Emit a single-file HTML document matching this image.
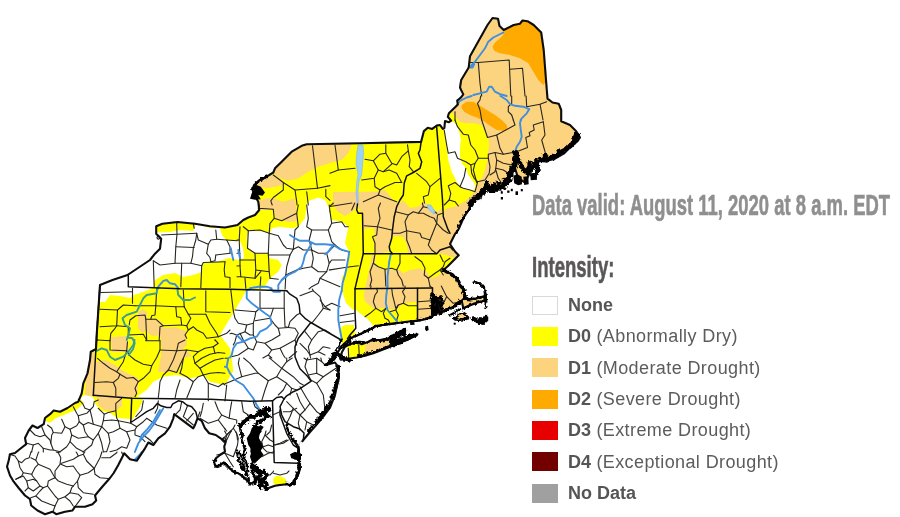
<!DOCTYPE html>
<html lang="en"><head><meta charset="utf-8"><title>U.S. Drought Monitor - Northeast</title>
<style>
html,body{margin:0;padding:0;background:#fff;}
body{width:900px;height:517px;overflow:hidden;position:relative;font-family:"Liberation Sans",sans-serif;}
#map{position:absolute;left:0;top:0;width:900px;height:517px;}
.hd{position:absolute;left:532px;white-space:nowrap;font-weight:bold;transform-origin:0 0;line-height:1;}
#dv{top:191.3px;font-size:28.6px;color:#8f8f8f;transform:scaleX(0.645);-webkit-text-stroke:0.6px #8f8f8f;}
#in{top:253.2px;font-size:28.6px;color:#5a5759;transform:scaleX(0.648);-webkit-text-stroke:0.6px #5a5759;}
.sw{position:absolute;left:532px;width:26.3px;height:19px;}
.lt{position:absolute;left:568px;font-size:18px;line-height:25px;color:#5c5c5c;white-space:nowrap;letter-spacing:0.4px;}
.lt b{color:#555;letter-spacing:0;}
</style></head><body>
<svg id="map" width="900" height="517" viewBox="0 0 900 517">
<defs><filter id="soft" x="0" y="0" width="100%" height="100%"><feGaussianBlur stdDeviation="0.5"/></filter></defs>
<g filter="url(#soft)">
<defs><filter id="rough" x="-5%" y="-5%" width="110%" height="110%"><feTurbulence type="fractalNoise" baseFrequency="0.35" numOctaves="2" seed="7" result="n"/><feDisplacementMap in="SourceGraphic" in2="n" scale="4.5" xChannelSelector="R" yChannelSelector="G"/></filter><clipPath id="land"><polygon points="492.5,18 498,18.7 499.5,26 503.7,30 513.7,25 520,23.7 522.5,20.5 527.5,21.2 533.7,25 541.2,32.5 543.7,50 546.2,82.5 547.5,98.7 552.5,102.5 558.7,103.7 561.2,110 561.2,121.2 570,125 576.2,131.2 580,137.5 577.5,141.2 570,147.5 563.7,153.7 555,158.7 545,161.2 537.5,161.2 530,172.5 525,182.5 518,178 515,168 512.5,172 502.5,185 495,187.5 485,186.2 480,195 472.5,201.2 468.7,210 463.7,217.5 458.7,229 455,234 450,244 455,251.5 458.7,255.2 452.5,261.5 447.5,266.5 443.3,270 450,273.3 456.7,278.3 460,285 463.3,290 465,295 465,298.3 470,299.3 476.7,298.3 483.3,296.7 485.3,295 486.3,301.7 484.2,300.8 476.7,302.7 470,305.3 463.3,308.3 461.7,300.8 458.3,303.3 453.3,307 448.3,308.7 443.3,311.7 438.3,312.5 434.2,313.7 431.7,316.7 423.3,319.7 418.3,320.8 406.7,321.7 396.7,323.3 383.3,325 376.7,325.8 370,329.2 363.3,332.5 356.7,335.8 350,338.3 346,342 341.7,346 338,352 333,358 326,365 335,362.5 338.7,367.5 338.7,377.5 335,395 330,407.5 322.5,417.5 316.2,425 310,432 303.3,440 298.3,446.7 299.2,455 299.2,463.3 299.2,470 296.7,476.7 293.3,483.3 290,485 286.7,484.2 280,485 275,485.8 270,487.5 265.8,489.2 262,484 258,478 254,482 250,484.2 248.3,481.7 243.3,476.7 238.3,473.3 233.3,471.7 228.3,466.7 224.2,462.5 220,465 215.8,466.7 214.2,462.5 215.8,458.3 220,455 225,451.7 224.2,446.7 225.8,441.7 221.7,439.2 215.8,435 209.2,433.3 205,428.3 201.7,420.8 197.5,418.3 195,425 193.3,428.3 174.2,414.2 173.3,418.3 170,426.7 165,433.3 158.3,438.3 153.3,445 148.3,442.5 145,448.3 141.7,453.3 136.7,460.8 130,459.2 124.2,453.3 121.7,458.3 118.3,465 113.7,473 110,478 101.2,488 95,495.5 96.2,500.5 92.5,504.2 85,506.7 75,506.7 72.5,510.5 65,511.7 56.2,514.2 52.5,511.7 45,514.2 37.5,510.5 31.2,505.5 30,499.2 25,495.5 18.7,488 13.7,481.7 10,475.5 7,466.7 8.7,460.5 10,454.2 15,453 21.2,448 26.2,444.2 25,438 28.7,430.5 32.5,425.5 37.5,428 43.7,424.2 45,418 50,414.2 53.7,410.5 60,411.7 67.5,408 75,403 78.3,401.7 81.7,393.3 83.3,383.3 87.5,373.3 90,360 90.8,351.7 96,349 96.7,335 100,285 112.5,280 127.5,275 150,260 155,253.7 160,248.7 161.2,238.7 156.2,233.7 156.2,226.2 162.5,223.7 177.5,222 195,223.7 210,226.2 225,227.5 237.5,225 243.3,220 248.3,217.5 255,215 259.2,210 258.3,201.7 253.3,193.3 252.5,188.3 255,184.2 260,180 266.7,176.7 273.3,172.5 275,168.3 281.7,161.7 291.7,151.7 301.7,145.8 306.7,144.2 360,143.3 421.1,141.9 423.9,131.1 427.8,127.8 432.2,128.9 436.7,125.6 440,125 442.8,128.9 444.4,127.8 445,121.1 448.9,122.2 451.1,120.6 447.8,116.7 448.9,113.3 452.2,110 455.6,106.7 457.8,104.4 457.2,100.6 460.6,97.8 463.3,94.4 461.1,90 460,87.5 461.2,80 468.7,67.5 470,56.2 487.5,25" /><polygon points="340,358.3 342,352 345,346.7 348.3,345 353.3,343.3 358.3,342.5 361.7,344.2 368.3,341.7 371.7,340 380,340 388.3,338.3 393.3,335.8 400,331.7 405,329.2 405,331 398.3,336 393.3,340 391.7,343 396.7,340.8 406.7,337.5 413.3,335 417.5,334.2 416.7,335.3 406.7,340 398.3,343.3 390,346.7 381.7,350 373.3,353.3 365,355.8 356.7,357.5 348.3,358.7 340.8,359.7" /><polygon points="454.2,318.7 458.3,315.3 463.3,312.7 466.7,315 468.3,318.3 463.3,319.3 458.3,320" /><polygon points="473.3,318.3 478.3,320.3 483.3,319.7 486,316.3 486.7,320 483.3,323 477,322.3" /></clipPath></defs>
<g clip-path="url(#land)">
<rect x="0" y="0" width="900" height="517" fill="#fff"/>
<polygon points="0,0 900,0 900,517 0,517" fill="#ffff00"/>
<polygon points="140,262 150,250 152,240 152,232.5 170,232 180,230 193,231 196,224 210,228 220,228 222,235 226,240 232,241 240,241 243,248 244,258 238,260 230,258 225,259 217,262 203,263 202,272 193,275 183,277 175,273 163,275 155,280 153,288 143,292 134,295 130,298 120,296 110,295 105,302 98,302 98,270" fill="#ffffff"/>
<polygon points="318.3,197.5 325,200 328.3,206.7 330,211.7 331.7,220 341.7,221.7 348.3,226.7 346.7,235 345,243.3 349.2,251.7 348.3,263.3 345,271.7 341.7,278.3 342.5,292 346,303 352,309 355.5,310.5 356,312 358,330 420,331 500,335 500,517 0,517 0,398 80,398 85,395 93,397 95,403 100,410.5 110,413 117.5,418 130,419 131.7,421 135,415 140,406.7 143.3,398.3 136.7,396.7 146.7,390 153.3,381.7 163.3,376.7 176.7,375 190,378.3 198.3,376.7 203.3,375 210,381.7 225,385 233.3,371 231.7,358.3 230,348.3 220,335 235,310 246.7,290 263.3,288.3 266.7,283.3 270,278.3 278.3,271.7 281.7,265 278.3,260 270,258.3 268.3,253.3 253.3,253.3 247.5,248.3 246.7,238.3 248.3,230.8 266.7,231.7 270,233.3 271.7,228.3 280,226.7 291.7,228.3 298.3,226.7 305,218.3 306.7,205 308.3,201" fill="#ffffff"/>
<polygon points="442.5,125.8 445.8,123.3 453.3,121.7 456.7,125 459.2,131.7 460.8,140 460,148.3 460,156.7 461.7,163.3 465.8,168 468.3,175 473.3,181.7 475.8,186.7 473.3,190.8 466.7,190 460,186.7 456.7,181.7 451.7,171.7 448.3,160 447.5,153.3 445.8,140 444.2,130" fill="#ffffff"/>
<polygon points="341.7,326.7 345,325 354.2,325 354.2,328.3 356.7,330 363.3,332 356.7,335.8 350,339.2 348.3,343.3 342.5,344.2 340.8,339.2 340,333.3" fill="#ffff00"/>
<polygon points="44,420 50,412 60,409 70,404 80,399 84,403 76,410 66,414 56,418 50,423" fill="#ffff00"/>
<polygon points="273.3,478.3 276.7,475.8 281.7,476.7 285.8,479.2 286.7,482.5 283.3,485 276.7,485.3 273.3,483.3" fill="#ffff00"/>
<polygon points="347.5,340 365,337 365,360 347.5,362" fill="#ffff00"/>
<polygon points="333,192 353,191.7 375,191.7 385,190 393,200 400,203 403,200 410,208 418,206.7 423,201.7 430,205 436.7,211.7 443,208 440,216.7 446.7,208.3 455,206.7 461.7,203.3 466.7,200 471.7,195 475,190 478.3,183.3 481.7,178.3 485,170 487.5,160 488.3,150 489.2,146.7 488.3,138.3 485,131.7 481.7,125 475,123.3 466.7,123.3 460,121.7 455,116.7 451.7,111.7 447,118 440,120 440,0 600,0 600,345 365,360 365,336 355,331 355,289 363,254 363,215 358,207 352,212 345,216 338,212 333,205" fill="#fcd37f"/>
<polygon points="351.7,145 348.3,153.3 341.7,160 331.7,162.5 318.3,166.7 308.3,171.7 298.3,178.3 288.3,180.8 280,178.3 273.3,174.2 265,165 300,138 352,138" fill="#fcd37f"/>
<polygon points="250,180 273.3,175 281.7,180 283.3,185 275,186.7 266.7,188.3 258.3,186.7 250,188" fill="#fcd37f"/>
<polygon points="255,201.7 266.7,198.3 273.3,198.3 283.3,201.7 295,198.3 296.7,213.3 298,221 288,222 275,218.3 273.3,210 260,210 255,212" fill="#fcd37f"/>
<polygon points="138,312 143,309 147,312 147,330 142,333 138,328" fill="#fcd37f"/>
<polygon points="147,320 155,318 163,323 163,335 152,336 147,332" fill="#fcd37f"/>
<polygon points="162,328 175,327 186,331 187,345 180,352 168,352 162,345" fill="#fcd37f"/>
<polygon points="111,337 127,336 128,352 112,352" fill="#fcd37f"/>
<polygon points="170,350 183,348 183,362 178,371 170,371" fill="#fcd37f"/>
<polygon points="160,352 186,350 192,356 178,360 165,358" fill="#fcd37f"/>
<polygon points="90,351 93.5,351 95,362 105,360 115,365 125,372 138,378 138,390 135,397 122,398 122,406 115,412 104,410 98,405 97,397 85,395 86,380" fill="#fcd37f"/>
<polygon points="160,335 172,335 176,345 170,372 158,372 162,350" fill="#fcd37f"/>
<polygon points="375,254.2 389,251 390,240 395,236 403,237 407,245 408,254 436.7,253.3 446.7,255 455,258.3 450,265 443.3,271.7 436.7,276.7 430,278.3 426.7,271.7 420,268.3 410,270 403.3,273.3 400,270 388.3,270 380,268.3 375,265" fill="#ffff00"/>
<polygon points="355,288.7 363.3,293.3 365,301.7 373.3,308.3 385,308.3 396.7,310 403.3,303.3 416.7,301.7 417.5,322 396.7,325 375,328 355,332" fill="#ffff00"/>
<polygon points="354.2,308.3 360,313.3 366.7,318.3 371.7,323.3 373.3,326.7 370,329.5 363.3,333 356.7,336 354.2,330" fill="#ffffff"/>
<polygon points="362.8,253.3 372.2,253.3 370.8,261.7 368.6,272.8 365.2,287.2 363.6,295.0 363.0,302.8 355.3,302.8 355.6,287.8 358.3,272.8" fill="#ffff00"/>
<polygon points="363.7,228.7 373.3,227.7 375.0,233.3 374.3,243.3 375.0,253.7 363.3,253.7" fill="#ffff00"/>
<polygon points="503.3,31.7 503.3,30.0 510.0,26.7 520.8,23.3 521.7,20.0 525.8,19.5 532.5,22.5 539.2,30.0 542.5,35.0 543.3,51.7 545.0,68.3 545.8,81.7 543.3,85.0 538.3,80.0 533.3,71.7 528.3,63.3 520.0,58.3 510.0,55.0 500.0,53.3 494.2,50.8 492.5,46.7 495.0,42.5 500.0,38.3 503.3,35.0" fill="#ffaa00"/>
<polygon points="461.7,105.0 466.7,101.7 473.3,101.7 480.0,105.8 486.7,110.0 495.0,115.0 501.7,120.0 506.7,125.0 507.5,129.2 503.3,130.8 496.7,130.0 490.0,125.8 483.3,120.8 476.7,117.5 470.0,115.0 464.2,111.7 461.7,108.3" fill="#ffaa00"/>
</g>
<g fill="none" stroke="#26261f" stroke-width="1.1" stroke-linejoin="round" stroke-linecap="round">
<polyline points="335.0,145.0 338.3,170.0 330.0,173.3" />
<polyline points="338.3,170.0 355.0,168.3" />
<polyline points="365.0,159.2 373.3,160.8 380.0,154.2 385.8,153.3 385.8,144.7" />
<polyline points="385.8,153.3 391.7,163.3 396.7,165.0 401.7,156.7 408.3,150.8 407.5,144.7" />
<polyline points="408.3,150.8 410.0,160.0 409.2,166.7 413.3,171.7" />
<polyline points="373.3,160.8 378.3,170.0 383.3,171.7 391.7,164.2" />
<polyline points="378.3,170.0 374.2,178.3 361.7,180.0" />
<polyline points="383.3,171.7 389.2,170.0 396.7,173.3 401.7,182.5" />
<polyline points="374.2,178.3 375.0,186.7 380.0,190.0 385.0,186.7 395.0,182.5 401.7,182.5" />
<polyline points="380.0,190.0 378.3,195.0 363.3,201.7" />
<polyline points="378.3,195.0 396.7,201.7" />
<polyline points="416.7,173.3 426.7,181.7 430.0,186.7 440.0,178.3" />
<polyline points="430.0,186.7 428.3,195.0 423.3,196.7 424.5,203.0" />
<polyline points="469.2,62.5 478.3,62.5 509.2,60.0 510.8,96.0" />
<polyline points="478.3,62.5 480.0,83.3 481.7,96.0" />
<polyline points="510.0,69.2 522.5,68.3 525.0,96.0" />
<polyline points="480.7,96.0 480.0,100.0 477.5,103.3 480.0,110.0 481.7,120.0" />
<polyline points="511.7,96.0 511.7,103.3 508.3,106.7 508.3,111.7 511.7,115.0 513.3,120.0" />
<polyline points="526.1,96.0 526.7,106.7 540.0,104.2 546.7,101.7" />
<polyline points="540.0,104.2 543.0,120.0" />
<polyline points="455.0,111.7 455.0,120.0" />
<polyline points="455.0,120.0 457.5,126.7 463.3,134.2 468.3,135.0 470.8,145.0 475.0,150.0 478.3,158.3 488.3,158.3" />
<polyline points="478.3,158.3 475.0,163.3 470.8,165.0 465.8,161.7 457.5,158.3 455.0,151.7 448.3,153.3 446.7,145.0 444.2,130.0" />
<polyline points="470.8,165.0 471.7,173.3 474.2,178.3 477.5,181.7 485.0,180.0 489.2,173.3 490.0,166.7 488.3,158.3" />
<polyline points="475.0,163.3 473.3,170.0 476.7,182.5" />
<polyline points="465.8,168.3 464.2,176.7 460.0,186.7 463.3,188.3 470.0,190.0 475.0,191.7 477.5,182.5" />
<polyline points="460.0,186.7 455.0,182.5 448.3,185.8 450.8,193.3 449.2,200.0 455.0,201.7 458.3,206.0" />
<polyline points="449.2,200.0 444.2,205.0" />
<polyline points="481.7,120.0 487.5,137.5 496.7,135.0 515.0,125.0 513.3,120.0" />
<polyline points="496.7,135.0 500.0,148.3 503.3,154.2 516.7,151.7" />
<polyline points="503.3,154.2 495.0,152.5 488.3,154.2 488.3,158.3" />
<polyline points="495.0,152.5 496.7,160.0 495.8,168.3 495.0,171.7 490.0,175.0" />
<polyline points="496.7,160.0 503.3,163.3 511.7,165.0" />
<polyline points="495.8,168.3 503.3,170.0 508.3,173.3 510.0,177.5" />
<polyline points="495.8,170.0 498.3,178.3 501.7,183.3" />
<polyline points="543.3,121.7 533.3,125.0 534.2,130.0 529.2,132.5 530.0,135.8 525.8,137.5 527.5,147.5 516.7,151.7" />
<polyline points="543.3,121.7 545.0,135.0 541.7,140.0 545.0,151.7 546.7,158.3" />
<polyline points="364.2,225.8 377.5,226.7 391.7,230.0" />
<polyline points="377.5,226.7 380.0,218.3 378.3,208.3 380.5,203.0" />
<polyline points="377.5,226.7 376.7,235.0 372.5,236.7 375.0,243.3 375.0,253.3" />
<polyline points="395.8,211.7 408.3,215.0 413.3,211.7 418.3,213.3 423.3,206.7 422.4,203.0" />
<polyline points="408.3,215.0 405.0,221.7 406.7,230.8 411.7,231.7 420.0,233.3 421.7,237.5 430.0,240.0 433.3,231.7 436.7,223.3 434.2,218.3 430.0,216.7 423.3,213.3 418.3,213.3" />
<polyline points="406.7,230.8 400.0,233.3 392.5,233.3" />
<polyline points="406.7,230.8 406.7,240.0 410.0,248.3 411.7,253.7" />
<polyline points="430.0,240.0 428.3,245.0 431.7,250.0 436.7,253.7" />
<polyline points="436.7,223.3 443.3,230.0 448.3,233.3" />
<polyline points="436.7,223.3 437.5,215.0 442.5,213.3" />
<polyline points="423.3,206.7 430.0,208.3 436.7,213.3" />
<polyline points="375.0,254.2 373.3,263.3 378.3,266.7 385.0,269.2 391.7,268.3 396.7,270.0 400.0,263.3 400.0,254.2" />
<polyline points="373.3,263.3 370.0,271.7 371.7,280.0 370.0,286.0" />
<polyline points="396.7,270.0 398.3,275.0 401.7,280.0 403.3,286.0" />
<polyline points="385.0,269.2 385.8,286.0" />
<polyline points="415.0,256.7 421.7,261.7 425.0,268.3 424.2,275.0 428.3,278.3 435.0,273.3 440.0,270.0 443.3,266.7 445.0,261.7 450.0,258.3" />
<polyline points="440.0,255.0 443.3,261.7" />
<polyline points="428.3,278.3 430.0,286.0" />
<polyline points="440.0,270.0 443.3,275.0" />
<polyline points="371.1,286.0 370.8,287.5" />
<polyline points="405.0,286.0 405.0,287.5" />
<polyline points="429.7,286.0 431.7,287.5" />
<polyline points="441.3,286.0 443.3,290.0 446.7,296.7 443.3,303.3" />
<polyline points="446.7,296.7 453.3,303.3 460.0,301.7" />
<polyline points="376.7,288.3 377.5,291.7 375.0,295.0 373.3,301.7 375.8,308.3 370.0,313.3 365.0,316.7" />
<polyline points="375.8,308.3 381.7,311.7 385.8,308.3" />
<polyline points="391.7,288.3 392.5,295.0 394.2,301.7 395.8,308.3 398.3,305.0 403.3,303.3 405.0,296.7 402.5,291.7 405.0,288.3" />
<polyline points="403.3,303.3 408.3,305.8 417.5,305.8" />
<polyline points="398.3,305.0 395.8,310.0 398.3,315.0 396.7,320.0 397.5,323.3" />
<polyline points="385.8,308.3 383.3,313.3 385.0,318.3 388.3,320.0 390.0,323.3" />
<polyline points="395.8,310.0 390.0,311.7" />
<polyline points="418.0,301.7 431.7,300.8" />
<polyline points="418.0,309.2 431.7,308.3" />
<polyline points="312.5,145.8 315.0,166.7 317.5,188.3" />
<polyline points="330.0,185.6 317.5,188.3" />
<polyline points="273.3,175.0 283.3,182.5 295.0,190.0 317.5,188.3" />
<polyline points="295.0,190.0 296.7,201.7 297.1,205.0" />
<polyline points="283.3,182.5 283.3,190.0 273.3,197.5 270.8,200.8 272.2,205.0" />
<polyline points="306.7,191.7 308.3,205.0 308.3,205.0" />
<polyline points="325.8,189.2 325.8,196.7 330.0,200.4" />
<polyline points="333.0,203.0 333.3,203.3 330.0,206.0" />
<polyline points="330.0,206.5 351.9,203.0" />
<polyline points="354.8,203.0 351.7,210.0 351.7,210.0" />
<polyline points="259.2,205.0 258.3,208.3 273.3,209.2 274.2,218.3 281.7,220.8 296.7,213.3 298.3,205.0" />
<polyline points="296.7,213.3 298.3,226.7 295.0,230.0 293.3,249.2" />
<polyline points="274.2,218.3 270.0,223.3 269.2,233.3" />
<polyline points="243.3,226.7 248.3,230.8 260.0,230.0 269.2,233.3" />
<polyline points="248.3,230.8 247.5,248.3 255.0,253.3 268.3,253.3 269.2,233.3" />
<polyline points="269.2,233.3 278.3,235.8 283.3,245.0 286.7,248.3 293.3,249.2" />
<polyline points="306.7,205.0 308.3,218.3 306.7,226.7 311.7,230.0 328.3,230.0 330.0,226.7" />
<polyline points="330.0,211.7 330.0,211.7 329.2,205.0" />
<polyline points="330.0,226.7 331.7,223.3 330.0,211.7 330.0,211.7" />
<polyline points="311.7,230.0 309.2,240.0 311.7,250.0" />
<polyline points="328.3,230.0 330.0,235.8" />
<polyline points="330.0,235.8 331.7,241.7 335.0,245.0" />
<polyline points="331.7,223.3 341.7,221.7 345.0,226.7 348.3,226.7" />
<polyline points="293.3,249.2 298.3,246.7 303.3,250.0 311.7,250.0 318.3,253.3 326.7,253.3 330.0,250.0" />
<polyline points="330.0,250.0 335.0,245.0 341.7,250.0 348.3,251.7" />
<polyline points="268.3,253.3 269.2,271.7 270.0,278.3" />
<polyline points="255.0,253.3 255.8,270.0 255.0,278.3" />
<polyline points="255.8,270.0 269.2,271.7" />
<polyline points="268.3,255.0 290.0,255.0 293.3,249.2" />
<polyline points="290.0,255.0 286.7,266.7 285.8,275.0 285.1,289.0" />
<polyline points="311.7,250.0 313.3,258.3 311.7,266.7 318.3,271.7 326.7,271.7 329.2,263.3 326.7,253.3" />
<polyline points="311.7,266.7 303.3,268.3 296.7,270.0 285.8,275.0" />
<polyline points="329.2,263.3 330.0,262.2" />
<polyline points="330.0,262.2 331.7,260.0 345.0,260.0" />
<polyline points="329.2,270.0 330.0,269.9" />
<polyline points="330.0,269.9 345.0,267.5 358.3,265.8" />
<polyline points="326.7,271.7 320.0,278.3 318.3,283.3 311.7,286.7 309.0,289.0" />
<polyline points="320.0,278.3 330.0,282.5" />
<polyline points="330.0,282.5 340.0,286.7" />
<polyline points="270.0,278.3 278.3,279.2" />
<polyline points="237.0,240.1 239.2,240.0 240.0,226.7" />
<polyline points="239.2,240.0 240.0,260.0 255.0,260.0" />
<polyline points="237.0,253.3 240.0,253.3" />
<polyline points="237.0,266.0 240.0,265.8 240.0,260.0" />
<polyline points="240.0,265.8 240.8,276.7 255.0,278.3 260.8,271.7" />
<polyline points="237.0,276.7 240.8,276.7" />
<polyline points="245.0,278.3 245.8,288.3" />
<polyline points="260.8,276.7 260.0,288.3" />
<polyline points="161.7,235.0 176.7,234.2 196.7,233.3" />
<polyline points="176.7,223.3 177.0,234.2 175.8,246.7 175.0,263.3" />
<polyline points="193.3,223.3 194.2,228.3" />
<polyline points="196.7,233.3 195.8,240.0 193.3,248.3 192.5,256.7 190.8,263.3" />
<polyline points="175.8,246.7 194.2,247.5" />
<polyline points="196.7,233.3 198.3,240.0 208.3,244.2 210.8,240.0 216.7,239.2 215.8,230.0" />
<polyline points="208.3,244.2 206.7,253.3 210.0,257.5 210.8,261.7" />
<polyline points="216.7,239.2 226.7,240.0 237.0,240.7" />
<polyline points="226.7,240.0 230.0,246.7 230.0,253.3" />
<polyline points="215.8,255.0 230.0,253.3" />
<polyline points="215.8,255.0 215.0,260.8 210.8,261.7" />
<polyline points="153.3,260.8 160.0,265.0 175.0,263.3 190.8,263.3 201.7,265.8" />
<polyline points="153.3,260.8 154.2,286.7" />
<polyline points="181.7,263.3 180.8,286.7" />
<polyline points="201.7,265.8 203.3,262.5 225.0,261.7" />
<polyline points="201.7,265.8 200.8,287.5" />
<polyline points="225.0,261.7 224.2,270.0 225.0,276.7 230.0,277.5 230.0,287.5" />
<polyline points="132.5,289.0 132.5,288.3" />
<polyline points="156.7,288.3 156.7,289.0" />
<polyline points="157.5,236.3 159.7,236.3 160.3,238.3 158.3,239.3 157.0,238.0 157.5,236.3" />
<polyline points="100.8,292.5 132.5,291.7" />
<polyline points="132.5,289.0 132.5,303.3" />
<polyline points="100.0,309.2 117.5,310.0 123.3,305.0 135.0,305.8" />
<polyline points="156.7,289.2 155.8,305.8" />
<polyline points="183.3,290.0 184.2,306.7" />
<polyline points="205.8,290.8 205.8,311.7 230.0,312.5" />
<polyline points="135.0,305.8 155.8,305.8 175.8,306.7 184.2,306.7" />
<polyline points="184.2,306.7 188.3,314.2 205.8,314.2" />
<polyline points="155.8,305.8 155.0,315.0 151.7,315.8 150.8,319.2 145.8,319.2 145.0,315.0 135.8,315.8 130.0,320.0 129.2,325.0" />
<polyline points="175.8,306.7 176.7,316.7 180.8,317.5 181.7,325.0 186.7,325.8 190.8,318.3 188.3,314.2" />
<polyline points="117.5,310.0 116.7,325.8 100.0,326.7" />
<polyline points="116.7,325.8 128.3,326.7" />
<polyline points="145.8,319.2 146.7,340.0 146.7,340.0" />
<polyline points="159.2,340.0 160.0,326.7 163.3,325.8 155.8,319.2 150.8,319.2" />
<polyline points="163.3,325.8 181.7,325.0" />
<polyline points="186.7,325.8 188.3,330.0 185.0,335.0 186.7,338.3" />
<polyline points="188.3,330.0 193.3,326.7 196.7,330.0 203.3,333.3 206.7,338.3 218.3,336.7" />
<polyline points="205.8,314.2 210.0,323.3 216.7,333.3 218.3,336.7" />
<polyline points="218.3,336.7 226.7,333.3 230.0,330.0" />
<polyline points="97.5,340.0 97.5,340.0" />
<polyline points="110.1,340.0 110.8,333.3 115.0,328.3 116.7,325.8" />
<polyline points="128.3,326.7 128.3,335.0 143.3,334.2 146.7,340.0" />
<polyline points="97.5,340.0 110.0,340.8 110.0,340.0" />
<polyline points="110.0,340.8 110.0,350.0 126.7,350.8 127.5,341.7" />
<polyline points="97.5,358.3 103.3,363.3 110.0,368.3 116.7,371.7 120.0,374.2 118.3,378.3 113.3,382.5 106.7,381.7 95.0,382.5" />
<polyline points="126.7,350.8 130.0,355.8 135.0,360.0 143.3,364.2 151.7,365.8 156.7,357.5 160.0,350.0 160.0,340.8" />
<polyline points="145.8,340.0 145.8,340.8 160.0,340.8" />
<polyline points="116.7,371.7 120.0,366.7 123.3,361.7 126.7,350.8" />
<polyline points="120.0,374.2 126.7,378.3 133.3,377.5 138.3,381.7 135.0,388.3 136.7,393.3 135.0,396.7" />
<polyline points="113.3,382.5 115.8,388.3 115.8,395.8" />
<polyline points="151.7,365.8 150.0,371.7 143.3,378.3 138.3,381.7" />
<polyline points="160.0,350.0 176.7,350.8 186.7,350.0 198.3,351.7" />
<polyline points="176.7,350.8 173.3,360.0 168.3,370.0 176.7,372.5 180.0,365.0 183.3,358.3 186.7,350.0" />
<polyline points="183.3,358.3 181.7,368.3 180.0,373.3" />
<polyline points="168.3,370.0 163.3,375.0 160.0,381.7 159.2,390.0 158.3,397.5" />
<polyline points="180.0,373.3 186.7,376.7 193.3,381.7 198.3,376.7 203.3,375.0" />
<polyline points="193.3,381.7 190.0,390.0 186.8,398.0" />
<polyline points="180.0,380.0 176.7,390.0 175.1,398.0" />
<polyline points="203.3,375.0 208.3,383.3 208.3,398.0" />
<polyline points="198.3,351.7 193.3,356.7 195.0,363.3 200.0,368.3 203.3,375.0" />
<polyline points="198.3,351.7 205.0,348.3 213.3,346.7" />
<polyline points="195.0,363.3 201.7,358.3 210.0,354.2 218.3,352.5 225.0,353.3" />
<polyline points="200.0,368.3 206.7,364.2 215.0,360.0 223.3,358.3" />
<polyline points="203.3,375.0 210.0,373.3 218.3,372.5 225.0,373.3" />
<polyline points="213.3,346.7 215.0,353.3" />
<polyline points="185.0,340.0 185.0,340.0 178.3,343.3 176.7,350.8" />
<polyline points="215.0,340.0 215.0,340.0 215.0,340.0" />
<polyline points="208.3,383.3 218.3,386.7 223.3,383.3 225.0,385.0" />
<polyline points="215.0,340.0 218.3,343.3 213.3,346.7" />
<polyline points="230.8,290.0 233.3,310.8 235.0,318.3 238.3,323.3 246.7,325.0 253.3,323.3 255.0,316.7 255.8,311.7 235.0,310.0" />
<polyline points="260.0,291.7 260.0,308.3 255.8,311.7" />
<polyline points="260.0,308.3 284.2,308.3 284.2,291.7" />
<polyline points="284.2,308.3 285.0,326.7 288.3,327.5" />
<polyline points="273.3,308.3 270.0,318.3 255.0,320.8" />
<polyline points="270.0,318.3 275.0,325.0 278.3,328.3 288.3,327.5" />
<polyline points="288.3,327.5 295.0,328.3 298.3,333.3 295.0,340.0 296.7,345.0" />
<polyline points="288.3,327.5 290.0,321.7 296.7,315.0 300.0,313.3" />
<polyline points="278.3,328.3 280.0,335.0 271.7,340.0 265.0,343.3 256.7,341.7 253.3,335.0 253.3,323.3" />
<polyline points="246.7,325.0 245.0,331.7 236.7,335.0 231.7,333.3 230.0,333.8" />
<polyline points="236.7,335.0 235.0,341.7 233.3,345.0" />
<polyline points="245.0,331.7 250.0,335.0 253.3,335.0" />
<polyline points="240.0,333.3 243.3,340.0 248.3,348.3 253.3,350.0 256.7,341.7" />
<polyline points="248.3,348.3 238.3,355.0 231.7,356.7" />
<polyline points="265.0,343.3 271.7,350.0 280.0,348.3 295.0,340.0" />
<polyline points="271.7,350.0 268.3,355.0 262.9,358.0" />
<polyline points="280.0,348.3 283.3,355.0 285.3,358.0" />
<polyline points="289.1,358.0 296.7,351.7" />
<polyline points="268.3,355.0 271.8,358.0" />
<polyline points="300.0,295.8 313.3,290.8 320.0,296.7 323.3,308.3 330.0,310.0" />
<polyline points="313.3,290.8 312.3,289.0" />
<polyline points="311.7,323.3 318.3,315.0 323.3,308.3" />
<polyline points="305.0,331.7 311.7,340.0 318.3,331.7 325.0,330.0 330.0,333.3" />
<polyline points="311.7,340.0 308.3,346.7 310.0,355.0 318.3,351.7 325.0,355.0" />
<polyline points="300.0,343.3 306.7,350.0 310.0,355.0" />
<polyline points="310.0,355.0 310.5,358.0" />
<polyline points="318.3,351.7 323.3,346.7 330.0,348.3" />
<polyline points="243.6,358.0 250.0,363.3 258.3,373.3 268.3,380.8 276.7,376.7 281.7,368.3 270.0,358.3 269.3,358.0" />
<polyline points="239.4,358.0 238.3,363.3 241.7,376.7 255.0,373.3 258.3,373.3" />
<polyline points="241.7,376.7 230.0,381.7 225.0,383.7" />
<polyline points="268.3,380.8 265.0,390.0 261.7,400.8" />
<polyline points="276.7,376.7 286.7,383.3 291.7,388.3 296.7,390.0" />
<polyline points="281.7,368.3 293.3,376.7 300.0,383.3 303.3,385.0" />
<polyline points="281.7,368.3 286.7,361.7 292.2,358.0" />
<polyline points="270.0,358.3 270.3,358.0" />
<polyline points="286.7,358.0 286.7,361.7" />
<polyline points="226.7,385.0 225.0,400.8" />
<polyline points="225.0,400.8 225.0,400.8" />
<polyline points="208.3,400.0 208.3,400.8" />
<polyline points="286.7,383.3 283.3,390.0 278.3,395.0" />
<polyline points="291.7,388.3 290.0,395.0" />
<polyline points="310.8,380.0 316.7,383.3 323.3,395.0 325.0,410.0" />
<polyline points="316.7,383.3 323.3,376.7 333.3,370.0 338.3,366.7" />
<polyline points="300.0,386.7 306.7,398.3 310.0,403.3 305.0,410.0 300.0,415.0" />
<polyline points="296.7,393.3 300.0,401.7 305.0,410.0" />
<polyline points="310.0,403.3 316.7,411.7 321.7,415.0" />
<polyline points="286.7,401.7 293.3,408.3 300.0,415.0 306.7,421.7 313.3,425.0" />
<polyline points="283.3,411.7 290.0,411.7 296.7,408.3" />
<polyline points="293.3,408.3 290.0,416.7 286.7,423.3" />
<polyline points="300.0,415.0 298.3,423.3 300.0,430.0" />
<polyline points="306.7,421.7 305.0,430.0" />
<polyline points="304.0,358.0 306.7,360.0 316.7,358.3 321.7,361.7 325.0,365.0" />
<polyline points="306.7,360.0 305.0,366.7 308.3,375.0 310.8,380.0" />
<polyline points="306.7,360.0 307.7,358.0" />
<polyline points="320.8,358.0 321.7,361.7" />
<polyline points="329.0,358.0 330.0,360.0 328.3,363.3" />
<polyline points="308.3,375.0 316.7,373.3 323.3,376.7" />
<polyline points="316.7,358.3 316.7,366.7 316.7,373.3" />
<polyline points="215.0,401.7 218.3,410.0 221.7,415.0 218.3,420.0 208.3,423.3 200.0,418.3" />
<polyline points="231.7,401.7 230.0,411.7 229.2,418.3 225.0,416.5" />
<polyline points="225.0,416.5 221.7,415.0" />
<polyline points="241.7,401.7 243.3,411.7 248.3,415.0 253.3,416.7" />
<polyline points="229.2,418.3 236.7,420.0 236.7,423.3" />
<polyline points="225.0,428.8 226.7,431.0" />
<polyline points="218.3,420.0 223.3,426.7 225.0,428.8" />
<polyline points="253.3,401.7 255.0,406.7 259.2,410.0" />
<polyline points="203.3,403.3 201.7,411.7 200.0,416.7" />
<polyline points="272.5,415.0 280.0,411.7" />
<polyline points="225.0,358.3 228.3,358.3" />
<polyline points="225.0,366.7 226.7,366.7" />
<polyline points="224.7,431.0 226.7,435.0" />
<polyline points="226.7,435.0 225.0,441.7" />
<polyline points="266.0,431.0 265.0,435.0 270.0,440.0 273.3,441.7" />
<polyline points="274.2,445.0 280.0,443.3 286.7,440.0" />
<polyline points="265.0,435.0 261.7,441.7 263.3,448.3 266.7,451.7 273.3,453.3" />
<polyline points="230.7,431.0 228.3,433.3 226.7,435.0" />
<polyline points="273.5,471.0 273.3,471.7 270.0,475.0 266.7,475.0" />
<polyline points="289.0,471.0 286.7,473.3 280.0,475.0 273.3,473.3" />
<polyline points="275.0,445.0 283.3,443.3 288.3,440.0" />
<polyline points="221.7,439.2 225.0,436.7 230.0,431.7 233.3,428.3 235.0,425.0" />
<polyline points="233.3,428.3 236.7,433.3 237.5,440.0" />
<polyline points="263.3,446.7 268.3,445.0 273.3,446.7" />
<polyline points="266.7,435.0 270.0,431.7 271.7,425.0" />
<polyline points="261.7,456.7 268.3,453.3 274.2,451.7" />
<polyline points="265.8,489.2 270.0,487.5 275.0,485.8 280.0,485.0 286.7,484.2" />
<polyline points="78.3,399.2 82.5,403.3 85.0,408.3 90.0,410.0 93.3,406.7 94.2,401.7 98.3,400.0" />
<polyline points="90.0,410.0 86.7,413.3 78.3,415.8 76.7,413.3 73.3,406.7" />
<polyline points="78.3,415.8 79.2,421.7 83.3,425.0 88.3,422.5 93.3,424.2" />
<polyline points="90.0,410.0 91.7,416.7 93.3,424.2 101.7,426.7 103.3,420.8 104.2,414.2 98.3,408.3" />
<polyline points="104.2,414.2 108.3,412.5 115.8,410.8 115.8,403.3 121.7,398.3" />
<polyline points="115.8,410.8 116.7,418.3 118.3,420.8 130.8,423.3" />
<polyline points="103.3,420.8 111.7,420.0 118.3,420.8" />
<polyline points="118.3,420.8 120.0,428.3 126.7,431.7 135.0,430.0 136.7,426.7 130.8,423.3" />
<polyline points="135.0,430.0 135.0,435.0 140.0,436.7" />
<polyline points="61.7,419.2 65.0,426.7 70.0,429.2 76.7,425.8 79.2,421.7" />
<polyline points="47.5,425.0 51.7,428.3 53.3,432.5 61.7,433.3 65.0,426.7" />
<polyline points="70.0,429.2 71.7,435.0 70.0,441.7 66.7,446.7 60.0,451.7 53.3,450.0 50.8,443.3 51.7,435.0 53.3,432.5" />
<polyline points="83.3,425.0 85.0,431.7 88.3,436.7 93.3,440.0 98.3,433.3 101.7,426.7" />
<polyline points="71.7,435.0 78.3,438.3 88.3,436.7" />
<polyline points="70.0,441.7 76.7,448.3 83.3,451.7 91.7,445.0 93.3,440.0" />
<polyline points="101.7,426.7 108.3,433.3 113.3,431.7 120.0,428.3" />
<polyline points="98.3,433.3 101.7,443.3 103.3,451.7 103.1,452.0" />
<polyline points="83.6,452.0 83.3,451.7" />
<polyline points="108.3,433.3 110.0,441.7 106.7,451.7 103.3,451.7" />
<polyline points="126.7,431.7 130.0,440.0 126.7,448.3 121.7,446.7 116.7,450.0 110.0,451.7" />
<polyline points="41.7,426.7 45.0,435.0 50.0,440.0 50.8,443.3" />
<polyline points="30.0,430.0 35.0,435.0 40.0,436.7 45.0,435.0" />
<polyline points="26.7,443.3 33.3,445.0 38.3,443.3 43.3,448.3 50.0,450.0 53.3,450.0" />
<polyline points="33.3,445.0 31.7,451.7 31.8,452.0" />
<polyline points="43.3,452.0 43.3,448.3" />
<polyline points="31.4,452.0 31.7,451.7" />
<polyline points="60.0,451.7 60.1,452.0" />
<polyline points="83.1,452.0 83.3,451.7" />
<polyline points="136.7,426.7 143.3,421.7 146.7,418.3" />
<polyline points="146.7,418.3 156.7,425.0 166.7,428.3" />
<polyline points="140.0,436.7 145.0,441.7" />
<polyline points="143.3,435.0 150.0,440.0 153.3,443.3" />
<polyline points="9.2,454.3 15.0,456.0 18.3,461.0 21.7,462.7 25.0,459.3 29.2,457.7 30.8,452.7 30.7,452.0" />
<polyline points="18.3,461.0 20.0,467.7 23.3,472.7 21.7,476.0 15.8,479.3" />
<polyline points="23.3,472.7 31.7,474.3 35.0,467.7 38.3,464.3 35.8,460.2 30.8,457.7" />
<polyline points="38.3,464.3 50.0,469.3 55.0,477.7 51.7,479.3 48.3,481.0 47.5,486.0 43.3,487.7 40.0,486.0 36.7,481.0 32.5,476.0 31.7,474.3" />
<polyline points="56.3,452.0 58.3,452.7 60.8,457.7 60.0,464.3 55.0,471.0 55.0,477.7" />
<polyline points="38.7,452.0 38.3,452.7 35.8,460.2" />
<polyline points="59.4,452.0 58.3,452.7" />
<polyline points="76.1,452.0 76.7,452.7 78.3,456.0 73.3,459.3 60.8,463.5" />
<polyline points="84.9,452.0 83.3,454.3 78.3,456.0" />
<polyline points="83.3,454.3 86.7,461.0 91.7,466.0 94.2,468.5 88.3,472.7 80.0,475.2 76.7,471.0 73.3,466.0 66.7,466.8 60.8,464.3" />
<polyline points="101.5,452.0 101.7,452.7 100.0,457.7 94.2,468.5" />
<polyline points="101.7,457.7 110.0,457.7 116.7,452.7 117.0,452.0" />
<polyline points="121.7,452.0 122.5,454.3" />
<polyline points="94.2,468.5 95.0,474.3 100.0,477.7 108.3,478.5" />
<polyline points="80.0,475.2 77.5,481.0 78.3,487.7 83.3,492.7 93.3,494.3" />
<polyline points="55.0,477.7 58.3,481.0 66.7,484.3 73.3,486.0 77.5,481.0" />
<polyline points="47.5,486.0 50.0,489.3 55.0,496.0 58.3,499.3 65.0,496.8 70.0,492.7 71.7,487.7 73.3,486.0" />
<polyline points="43.3,487.7 40.0,491.0 35.8,496.0 30.8,497.7" />
<polyline points="35.8,496.0 41.7,501.0 50.0,504.3 55.0,506.0 58.3,499.3" />
<polyline points="55.0,506.0 53.3,511.0" />
<polyline points="65.0,496.8 70.0,501.0 73.3,506.0" />
<polyline points="70.0,492.7 78.3,494.3 81.7,497.7 76.7,504.3 75.0,506.8" />
<polyline points="15.8,479.3 23.3,476.0 26.7,481.0 28.3,487.7 33.3,491.0 40.0,486.0" />
<polyline points="26.7,481.0 33.3,479.3 36.7,481.0" />
<polyline points="28.3,487.7 25.0,491.0" />
<polyline points="200.0,411.7 200.0,411.7 197.5,418.3" />
<polyline points="181.7,401.7 180.0,410.0 175.8,414.2" />
<polyline points="187.5,405.8 183.3,416.7 193.3,425.0" />
<polyline points="193.3,413.3 186.7,420.8" />
<polyline points="158.3,400.8 157.5,408.3 155.0,413.3" />
<polyline points="143.3,400.8 141.7,410.0 135.8,416.7" />
<polyline points="340.0,315.8 354.2,313.3" />
<polyline points="340.0,322.5 354.2,320.8" />
<polyline points="348.3,348.3 348.7,357.5" />
<polyline points="358.7,344.7 359.3,355.8" />
<polyline points="340.0,306.7 331.7,303.3 325.0,306.7 320.0,300.0" />
<polyline points="330.0,310.0 325.0,306.7" />
<polyline points="221.7,440.0 224.2,437.5 226.7,440.0 224.2,442.5 221.7,440.0" />
<polyline points="231.6,431.0 230.0,433.3 226.7,440.0" />
<polyline points="235.8,431.7 238.3,438.3 237.5,445.0 235.8,450.0" />
<polyline points="216.7,455.0 225.0,453.3 233.3,456.7 235.8,450.0" />
<polyline points="225.0,453.3 230.0,461.7 233.3,466.7" />
</g>
<g fill="none" stroke="#3f8fde" stroke-width="1.9" stroke-linejoin="round" stroke-linecap="round">
<polyline points="503.3,32.5 498.3,35.0 493.3,37.5 488.3,41.7 485.0,48.3 480.0,55.0 475.0,61.7 471.7,65.0 470.0,67.5 472.5,67.5 474.2,64.2" />
<polyline points="473.3,95.0 480.0,93.3 486.7,91.7 489.2,86.7 491.7,86.7 495.0,91.7 500.0,94.2 506.7,96.0" />
<polyline points="457.5,104.2 460.0,100.8 466.7,97.5 471.7,96.0" />
<polyline points="500.3,96.0 501.7,96.7 506.7,100.0 510.0,104.2 515.0,105.8 523.3,106.7 529.2,109.2 526.7,113.3 521.7,118.3 520.8,120.0" />
<polyline points="520.8,120.0 520.0,123.3 520.8,130.0 521.7,136.7 520.0,141.7 516.7,146.7 515.0,151.7" />
<polyline points="390.8,254.2 389.2,261.7 388.3,270.0 387.5,276.7 387.5,286.0" />
<polyline points="387.5,286.0 387.5,286.7 386.3,295.0 385.8,303.3 387.5,310.0 391.7,315.0 395.8,320.0 397.5,322.5" />
<polyline points="290.0,235.0 295.0,238.3 300.0,240.8 308.3,240.8 315.0,244.2 325.0,244.2 330.0,244.7" />
<polyline points="330.0,244.7 333.3,245.0 340.0,249.2 348.3,251.7" />
<polyline points="349.2,251.7 348.3,258.3 346.7,266.7 345.0,275.0 342.5,283.3 341.7,291.0" />
<polyline points="330.0,249.4 328.3,251.7 325.0,254.2" />
<polyline points="333.3,245.0 330.0,249.4" />
<polyline points="311.7,243.3 308.3,249.2 305.0,255.0 303.3,261.7 301.7,266.7 295.0,271.7 288.3,275.0 281.7,280.0 278.3,285.0 278.3,289.0" />
<polyline points="281.7,280.0 285.0,276.7" />
<polyline points="250.0,288.3 258.3,286.7 266.7,286.7 271.7,288.3" />
<polyline points="238.3,250.0 240.0,258.3" />
<polyline points="157.8,289.0 158.3,286.7 163.3,280.8 166.7,280.0 170.0,283.3 175.0,284.2 178.3,288.3 178.1,289.0" />
<polyline points="225.0,366.7 225.0,366.7 225.0,366.7" />
<polyline points="246.7,290.0 246.7,298.3 251.7,303.3 258.3,308.3 265.0,313.3 270.0,316.7 271.7,323.3 266.7,328.3 260.0,331.7 256.7,336.7 250.0,338.3 243.3,341.7 236.7,343.3 233.3,348.3 231.7,355.0 230.0,357.5" />
<polyline points="246.7,290.0 250.7,289.0" />
<polyline points="270.7,289.0 273.3,291.7 280.0,291.7" />
<polyline points="236.7,335.0 243.3,341.7" />
<polyline points="228.5,358.0 228.3,358.3 226.7,366.7 230.0,373.3 235.0,380.0 243.3,385.0 248.3,391.7 253.3,398.3 256.7,405.0 260.0,410.0" />
<polyline points="163.3,408.3 158.3,416.7 153.3,425.0 148.3,431.7 143.3,436.7 138.3,443.3 135.0,451.7 134.8,452.0" />
<polyline points="160.0,410.0 153.3,421.7 146.7,430.0 141.7,435.0 140.0,440.0" />
<polyline points="141.8,452.0 140.0,454.3 135.0,459.3" />
<polyline points="341.7,290.8 340.0,296.7 339.2,300.0 338.3,310.0 338.3,320.0 340.0,330.0 341.7,339.2" />
<polyline points="230.8,248.3 232.0,254.2 233.3,260.0" />
</g>
<g fill="none" stroke="#3f9d8e" stroke-width="1.9" stroke-linejoin="round" stroke-linecap="round">
<polyline points="157.1,289.0 156.7,293.3 146.7,295.0 143.3,298.3 140.0,305.0 136.7,311.7 126.7,315.0 122.5,318.3 125.0,325.0 130.0,328.3 128.3,335.0 126.7,340.0" />
<polyline points="177.5,290.0 178.3,295.0 183.3,300.0 190.0,300.0 195.0,297.5" />
<polyline points="134.6,340.0 133.3,345.0 128.3,351.7 123.3,356.7 115.0,360.0 110.0,356.7 106.7,350.0 101.7,348.3 96.7,350.8" />
<polyline points="128.0,337.5 132.5,338.3 134.7,343.0 133.0,349.2 128.7,355.0" />
</g>
<polygon points="358.0,145.0 363.0,145.0 363.7,153.3 362.7,163.3 361.7,175.0 359.0,181.7 358.0,191.7 358.3,203.3 357.0,203.3 356.0,191.7 356.7,181.7 358.0,175.0 356.0,163.3 356.7,153.3" fill="#9dd0f3" stroke="#6fb3ea" stroke-width="0.5"/>
<polygon points="427.5,205.0 430.8,205.0 435.0,211.7 434.2,214.2 430.0,210.8 427.5,207.5" fill="#9dd0f3" stroke="#6fb3ea" stroke-width="0.5"/>
<g fill="none" stroke="#111" stroke-width="1.5" stroke-linejoin="round" stroke-linecap="round">
<polyline points="436.7,127.5 442.5,200 443.3,216.7 447.5,228.3 450,233.3" />
<polyline points="421.1,141.9 420,150 418.3,153.3 421.7,161.7 420,168.3 413.3,172.5 406.7,175.8 404.2,183.3 403.3,195 400,200 396.7,206.7 394.2,216.7 392.5,230 391.7,238.3 389.2,246.7 390,250.8 392.5,253.7" />
<polyline points="363.3,253.7 436.7,253.7 440,250 450,246.7 453,250" />
<polyline points="357.5,204 356.7,210 358.3,213.3 362.5,213.3 363.3,253.7 355,288.7 355,311.7 355.8,328.3 350,335 347.5,338.7" />
<polyline points="355,288.7 432.5,288" />
<polyline points="417.5,288.3 417.5,321" />
<polyline points="432.5,288 432.5,297 437,300 440,305 441,309" />
<polyline points="128.3,274.2 128.3,286.7 180,288.7 230,289.2 286.7,290.8" />
<polyline points="286.7,290.8 290,294.2 296.7,298.3 299.2,305 300,313.3 305,318.3 310.8,322.5 305,330 298.3,338.3 295,346.7 295,356.7 298.3,365 300,368.7 307.5,376.2 311.2,381.2 300,388.7 293.3,391.7 286.7,395.8 284,399" />
<polyline points="310.8,322.5 341.2,340" />
<polyline points="100,285 96.7,335 93.3,395.5" />
<polyline points="93.3,395.3 131.7,398.3 210,399.2 250,401.2 272.5,400.8" />
<polyline points="272.5,400.8 276.7,397.5 281.7,396.7 284,399" />
<polyline points="272.5,400.8 274.2,462.5 298.3,463.3" />
<polyline points="284,399 280,406.7 281.7,415 285,421.7 293.3,426.7 300,429 304,433 303.3,440" />
<polyline points="280,410 280,415 286.7,433.3 293.3,445 298.3,448.3" />
<polyline points="131.7,398.3 130.8,422.5 138.3,417.5 146.7,411.7 153.3,408.3 157.5,403.3 160.8,405.8 166.7,407.5 170.8,407.5 172.5,404.2 178.3,400.8 182.5,401.7 186.7,405 191.7,406.7 195.8,411.7 197.5,418.3" />
</g>
<g fill="none" stroke="#0a0a0a" stroke-width="2.1" stroke-linejoin="round">
<polygon points="492.5,18 498,18.7 499.5,26 503.7,30 513.7,25 520,23.7 522.5,20.5 527.5,21.2 533.7,25 541.2,32.5 543.7,50 546.2,82.5 547.5,98.7 552.5,102.5 558.7,103.7 561.2,110 561.2,121.2 570,125 576.2,131.2 580,137.5 577.5,141.2 570,147.5 563.7,153.7 555,158.7 545,161.2 537.5,161.2 530,172.5 525,182.5 518,178 515,168 512.5,172 502.5,185 495,187.5 485,186.2 480,195 472.5,201.2 468.7,210 463.7,217.5 458.7,229 455,234 450,244 455,251.5 458.7,255.2 452.5,261.5 447.5,266.5 443.3,270 450,273.3 456.7,278.3 460,285 463.3,290 465,295 465,298.3 470,299.3 476.7,298.3 483.3,296.7 485.3,295 486.3,301.7 484.2,300.8 476.7,302.7 470,305.3 463.3,308.3 461.7,300.8 458.3,303.3 453.3,307 448.3,308.7 443.3,311.7 438.3,312.5 434.2,313.7 431.7,316.7 423.3,319.7 418.3,320.8 406.7,321.7 396.7,323.3 383.3,325 376.7,325.8 370,329.2 363.3,332.5 356.7,335.8 350,338.3 346,342 341.7,346 338,352 333,358 326,365 335,362.5 338.7,367.5 338.7,377.5 335,395 330,407.5 322.5,417.5 316.2,425 310,432 303.3,440 298.3,446.7 299.2,455 299.2,463.3 299.2,470 296.7,476.7 293.3,483.3 290,485 286.7,484.2 280,485 275,485.8 270,487.5 265.8,489.2 262,484 258,478 254,482 250,484.2 248.3,481.7 243.3,476.7 238.3,473.3 233.3,471.7 228.3,466.7 224.2,462.5 220,465 215.8,466.7 214.2,462.5 215.8,458.3 220,455 225,451.7 224.2,446.7 225.8,441.7 221.7,439.2 215.8,435 209.2,433.3 205,428.3 201.7,420.8 197.5,418.3 195,425 193.3,428.3 174.2,414.2 173.3,418.3 170,426.7 165,433.3 158.3,438.3 153.3,445 148.3,442.5 145,448.3 141.7,453.3 136.7,460.8 130,459.2 124.2,453.3 121.7,458.3 118.3,465 113.7,473 110,478 101.2,488 95,495.5 96.2,500.5 92.5,504.2 85,506.7 75,506.7 72.5,510.5 65,511.7 56.2,514.2 52.5,511.7 45,514.2 37.5,510.5 31.2,505.5 30,499.2 25,495.5 18.7,488 13.7,481.7 10,475.5 7,466.7 8.7,460.5 10,454.2 15,453 21.2,448 26.2,444.2 25,438 28.7,430.5 32.5,425.5 37.5,428 43.7,424.2 45,418 50,414.2 53.7,410.5 60,411.7 67.5,408 75,403 78.3,401.7 81.7,393.3 83.3,383.3 87.5,373.3 90,360 90.8,351.7 96,349 96.7,335 100,285 112.5,280 127.5,275 150,260 155,253.7 160,248.7 161.2,238.7 156.2,233.7 156.2,226.2 162.5,223.7 177.5,222 195,223.7 210,226.2 225,227.5 237.5,225 243.3,220 248.3,217.5 255,215 259.2,210 258.3,201.7 253.3,193.3 252.5,188.3 255,184.2 260,180 266.7,176.7 273.3,172.5 275,168.3 281.7,161.7 291.7,151.7 301.7,145.8 306.7,144.2 360,143.3 421.1,141.9 423.9,131.1 427.8,127.8 432.2,128.9 436.7,125.6 440,125 442.8,128.9 444.4,127.8 445,121.1 448.9,122.2 451.1,120.6 447.8,116.7 448.9,113.3 452.2,110 455.6,106.7 457.8,104.4 457.2,100.6 460.6,97.8 463.3,94.4 461.1,90 460,87.5 461.2,80 468.7,67.5 470,56.2 487.5,25" />
<polygon points="340,358.3 342,352 345,346.7 348.3,345 353.3,343.3 358.3,342.5 361.7,344.2 368.3,341.7 371.7,340 380,340 388.3,338.3 393.3,335.8 400,331.7 405,329.2 405,331 398.3,336 393.3,340 391.7,343 396.7,340.8 406.7,337.5 413.3,335 417.5,334.2 416.7,335.3 406.7,340 398.3,343.3 390,346.7 381.7,350 373.3,353.3 365,355.8 356.7,357.5 348.3,358.7 340.8,359.7" />
</g>
<polyline points="302.3,442.2 299.3,446" fill="none" stroke="#fff" stroke-width="3.2"/>
<g fill="none" stroke="#000" stroke-linejoin="round" stroke-linecap="round" filter="url(#rough)">
<polyline points="576.7,135.8 575.0,139.2" stroke-width="5"/>
<polyline points="576.7,135.8 575.0,139.2" stroke-width="6.5" stroke-dasharray="0.1 5.5"/>
<polyline points="575.0,139.2 571.7,145.0 566.7,148.3 560.0,153.3 553.3,156.7 546.7,160.0 540.0,159.2 536.7,161.7 533.3,166.7 530.0,170.0 525.0,171.7 521.7,166.7 518.3,160.0 515.8,153.3" stroke-width="3.8"/>
<polyline points="575.0,139.2 571.7,145.0 566.7,148.3 560.0,153.3 553.3,156.7 546.7,160.0 540.0,159.2 536.7,161.7 533.3,166.7 530.0,170.0 525.0,171.7 521.7,166.7 518.3,160.0 515.8,153.3" stroke-width="4.94" stroke-dasharray="0.1 4.2"/>
<polyline points="536.7,161.7 538.3,170.0 535.0,175.0" stroke-width="4"/>
<polyline points="536.7,161.7 538.3,170.0 535.0,175.0" stroke-width="5.2" stroke-dasharray="0.1 4.4"/>
<polyline points="530.0,163.3 528.3,173.3" stroke-width="4"/>
<polyline points="530.0,163.3 528.3,173.3" stroke-width="5.2" stroke-dasharray="0.1 4.4"/>
<polyline points="546.7,160.0 545.0,155.0" stroke-width="4"/>
<polyline points="546.7,160.0 545.0,155.0" stroke-width="5.2" stroke-dasharray="0.1 4.4"/>
<polyline points="560.0,153.3 558.3,150.0" stroke-width="4"/>
<polyline points="560.0,153.3 558.3,150.0" stroke-width="5.2" stroke-dasharray="0.1 4.4"/>
<polyline points="515.8,153.3 515.0,161.7 513.3,168.3 510.0,175.0 508.3,180.0 503.3,186.7 496.7,188.3 491.7,190.0 486.7,186.7 483.3,191.7 478.3,196.7 473.3,200.0 470.0,205.0" stroke-width="5"/>
<polyline points="515.8,153.3 515.0,161.7 513.3,168.3 510.0,175.0 508.3,180.0 503.3,186.7 496.7,188.3 491.7,190.0 486.7,186.7 483.3,191.7 478.3,196.7 473.3,200.0 470.0,205.0" stroke-width="6.5" stroke-dasharray="0.1 5.5"/>
<polyline points="486.7,183.3 485.8,188.3" stroke-width="3.5"/>
<polyline points="486.7,183.3 485.8,188.3" stroke-width="4.55" stroke-dasharray="0.1 3.9"/>
<polyline points="493.3,184.2 492.5,190.0" stroke-width="3.5"/>
<polyline points="493.3,184.2 492.5,190.0" stroke-width="4.55" stroke-dasharray="0.1 3.9"/>
<polyline points="498.3,183.3 497.5,188.3" stroke-width="3.5"/>
<polyline points="498.3,183.3 497.5,188.3" stroke-width="4.55" stroke-dasharray="0.1 3.9"/>
<polyline points="505.0,180.0 503.3,185.8" stroke-width="3.5"/>
<polyline points="505.0,180.0 503.3,185.8" stroke-width="4.55" stroke-dasharray="0.1 3.9"/>
<polyline points="470.0,205.0 469.2,210.0 465.0,213.3 463.3,218.3 460.0,223.3 458.3,228.3 456.7,233.3" stroke-width="1.8"/>
<polyline points="432.5,295.0 433.3,300.0 432.5,305.0 433.3,310.0 434.2,313.3" stroke-width="4"/>
<polyline points="432.5,295.0 433.3,300.0 432.5,305.0 433.3,310.0 434.2,313.3" stroke-width="5.2" stroke-dasharray="0.1 4.4"/>
<polyline points="436.7,298.3 437.5,303.3 436.7,308.3 437.5,312.5" stroke-width="4"/>
<polyline points="436.7,298.3 437.5,303.3 436.7,308.3 437.5,312.5" stroke-width="5.2" stroke-dasharray="0.1 4.4"/>
<polyline points="440.8,297.5 441.7,303.3 440.8,309.2" stroke-width="3.5"/>
<polyline points="440.8,297.5 441.7,303.3 440.8,309.2" stroke-width="4.55" stroke-dasharray="0.1 3.9"/>
<polyline points="431.7,315.8 434.2,313.7 438.3,312.5 443.3,311.7 448.3,308.7 453.3,307.0 458.3,303.3 461.7,300.3" stroke-width="3"/>
<polyline points="431.7,315.8 434.2,313.7 438.3,312.5 443.3,311.7 448.3,308.7 453.3,307.0 458.3,303.3 461.7,300.3" stroke-width="3.9" stroke-dasharray="0.1 3.3"/>
<polyline points="450.0,315.3 455.0,312.5 460.0,309.3" stroke-width="2.5"/>
<polyline points="461.7,300.3 465.0,298.3 470.0,299.3 476.7,298.3 483.3,296.7 485.3,295.0 484.2,288.3 480.8,284.2 477.5,282.5 473.7,282.5" stroke-width="2.5"/>
<polyline points="485.3,295.0 486.0,301.7 485.3,307.5" stroke-width="2.5"/>
<polyline points="463.3,308.3 470.0,305.3 476.7,302.7 484.2,300.8" stroke-width="2.2"/>
<polyline points="454.2,318.7 458.3,315.3 463.3,312.7 466.7,315.0 468.3,318.3 463.3,319.3 458.3,320.0 454.2,318.7" stroke-width="2.5"/>
<polyline points="473.3,318.3 478.3,320.3 483.3,319.7 486.0,316.3 486.7,320.0 483.3,323.0 477.0,322.3 473.3,318.3" stroke-width="3"/>
<polyline points="473.3,318.3 478.3,320.3 483.3,319.7 486.0,316.3 486.7,320.0 483.3,323.0 477.0,322.3 473.3,318.3" stroke-width="3.9" stroke-dasharray="0.1 3.3"/>
<polyline points="443.3,270.0 450.0,273.3 456.7,278.3 460.0,285.0 463.3,290.0 465.0,295.0 465.0,298.3" stroke-width="3"/>
<polyline points="443.3,270.0 450.0,273.3 456.7,278.3 460.0,285.0 463.3,290.0 465.0,295.0 465.0,298.3" stroke-width="3.9" stroke-dasharray="0.1 3.3"/>
<polyline points="391.7,336.7 398.3,333.3 403.3,330.3 405.3,329.2" stroke-width="3"/>
<polyline points="391.7,336.7 398.3,333.3 403.3,330.3 405.3,329.2" stroke-width="3.9" stroke-dasharray="0.1 3.3"/>
<polyline points="403.3,332.5 396.7,336.7 393.3,340.0 391.7,343.3" stroke-width="4"/>
<polyline points="403.3,332.5 396.7,336.7 393.3,340.0 391.7,343.3" stroke-width="5.2" stroke-dasharray="0.1 4.4"/>
<polyline points="391.7,343.3 400.0,340.0 408.3,336.7 416.7,334.2" stroke-width="3"/>
<polyline points="391.7,343.3 400.0,340.0 408.3,336.7 416.7,334.2" stroke-width="3.9" stroke-dasharray="0.1 3.3"/>
<polyline points="388.3,339.2 391.7,336.7" stroke-width="3"/>
<polyline points="388.3,339.2 391.7,336.7" stroke-width="3.9" stroke-dasharray="0.1 3.3"/>
<polyline points="398.3,335.8 401.7,334.2 405.0,335.0" stroke-width="3"/>
<polyline points="398.3,335.8 401.7,334.2 405.0,335.0" stroke-width="3.9" stroke-dasharray="0.1 3.3"/>
<polyline points="350.0,343.3 356.7,341.7 366.7,342.5 371.7,340.0 380.0,340.8 388.3,339.2" stroke-width="2.5"/>
<polyline points="416.7,335.0 408.3,339.2 400.0,343.3 391.7,345.8 383.3,348.3 375.0,351.7 366.7,354.2 358.3,356.0" stroke-width="2.5"/>
<polyline points="350.0,338.3 356.7,335.8 363.3,332.5 370.0,329.2 376.7,325.8 388.3,324.2 398.3,323.0 408.3,322.0 417.5,320.7 425.0,319.2 431.7,317.0" stroke-width="2.2"/>
<polyline points="266.7,176.7 260.0,180.0 255.0,184.2 252.5,188.3" stroke-width="2.5"/>
<polyline points="338.3,366.7 338.0,378.3 335.3,388.3 332.0,398.3" stroke-width="3"/>
<polyline points="338.3,366.7 338.0,378.3 335.3,388.3 332.0,398.3" stroke-width="3.9" stroke-dasharray="0.1 3.3"/>
<polyline points="332.0,398.3 326.7,408.3" stroke-width="2.2"/>
<polyline points="326.7,408.3 323.3,413.3 320.0,418.3 316.7,422.0" stroke-width="4"/>
<polyline points="326.7,408.3 323.3,413.3 320.0,418.3 316.7,422.0" stroke-width="5.2" stroke-dasharray="0.1 4.4"/>
<polyline points="316.7,422.0 313.3,425.3 308.3,431.0" stroke-width="2.5"/>
<polyline points="325.0,365.0 331.7,361.7 335.3,356.7 333.3,354.7" stroke-width="2.5"/>
<polyline points="328.3,363.7 333.3,358.7 336.3,354.2" stroke-width="2.5"/>
<polyline points="336.7,353.3 343.3,358.3 350.0,360.0" stroke-width="3"/>
<polyline points="336.7,353.3 343.3,358.3 350.0,360.0" stroke-width="3.9" stroke-dasharray="0.1 3.3"/>
<polyline points="259.2,411.7 263.3,410.0 266.7,408.3 270.0,410.0" stroke-width="3"/>
<polyline points="259.2,411.7 263.3,410.0 266.7,408.3 270.0,410.0" stroke-width="3.9" stroke-dasharray="0.1 3.3"/>
<polyline points="266.7,408.3 263.3,413.3 258.3,414.2 255.0,416.7 250.0,416.7 246.7,420.0 243.3,422.5 240.0,425.8" stroke-width="3.5"/>
<polyline points="266.7,408.3 263.3,413.3 258.3,414.2 255.0,416.7 250.0,416.7 246.7,420.0 243.3,422.5 240.0,425.8" stroke-width="4.55" stroke-dasharray="0.1 3.9"/>
<polyline points="266.7,416.7 263.3,420.0 258.3,421.7 255.0,426.7 253.3,431.7" stroke-width="3"/>
<polyline points="266.7,416.7 263.3,420.0 258.3,421.7 255.0,426.7 253.3,431.7" stroke-width="3.9" stroke-dasharray="0.1 3.3"/>
<polyline points="240.0,425.8 240.8,431.7 242.5,435.8 241.3,440.0 243.7,445.0 245.0,450.0 243.7,455.0 245.3,460.0 246.7,465.0 248.3,471.0" stroke-width="2.6"/>
<polyline points="260.0,415.0 265.8,413.7 270.0,416.7" stroke-width="3"/>
<polyline points="260.0,415.0 265.8,413.7 270.0,416.7" stroke-width="3.9" stroke-dasharray="0.1 3.3"/>
<polyline points="239.2,451.7 241.7,458.3 243.3,463.3 244.2,468.3 246.7,473.3 248.3,478.3 250.0,484.2" stroke-width="2.4"/>
<polyline points="236.7,451.7 238.3,458.3 240.8,465.0 243.3,470.0 245.8,475.0" stroke-width="2.4"/>
<polyline points="253.3,465.0 256.7,470.0 260.0,473.3 259.2,476.7 260.8,483.3 260.0,488.3" stroke-width="4"/>
<polyline points="253.3,465.0 256.7,470.0 260.0,473.3 259.2,476.7 260.8,483.3 260.0,488.3" stroke-width="5.2" stroke-dasharray="0.1 4.4"/>
<polyline points="260.0,473.3 263.3,471.7 266.7,475.0 263.3,480.0 266.7,485.0 265.8,489.2" stroke-width="3.5"/>
<polyline points="260.0,473.3 263.3,471.7 266.7,475.0 263.3,480.0 266.7,485.0 265.8,489.2" stroke-width="4.55" stroke-dasharray="0.1 3.9"/>
<polyline points="251.7,466.7 253.3,473.3 255.8,478.3 255.0,483.3" stroke-width="3"/>
<polyline points="251.7,466.7 253.3,473.3 255.8,478.3 255.0,483.3" stroke-width="3.9" stroke-dasharray="0.1 3.3"/>
<polyline points="299.2,455.0 299.2,463.3 299.2,470.0 296.7,476.7 293.3,483.3 290.0,485.0 286.7,484.2" stroke-width="3"/>
<polyline points="299.2,455.0 299.2,463.3 299.2,470.0 296.7,476.7 293.3,483.3 290.0,485.0 286.7,484.2" stroke-width="3.9" stroke-dasharray="0.1 3.3"/>
<polyline points="286.7,425.0 288.3,431.7 293.3,440.0 298.3,446.7 299.2,455.0" stroke-width="2.5"/>
<polyline points="215.8,458.3 214.2,462.5 215.8,466.7 220.0,465.0 224.2,462.5 228.3,466.7 233.3,471.7 238.3,473.3 243.3,476.7 248.3,481.7 250.0,484.2" stroke-width="2.2"/>
<polyline points="340.0,348.3 345.0,345.8 350.0,340.0" stroke-width="2.5"/>
<polyline points="341.7,339.2 338.3,346.7 333.3,355.0 329.2,362.5 325.8,365.0" stroke-width="2.2"/>
<polyline points="325.8,365.0 331.7,361.7 335.8,357.5" stroke-width="2.2"/>
</g>
<g fill="#000">
<polygon points="513.3,175.8 517.5,174.2 521.7,176.7 522.0,184.2 518.3,185.3 514.2,183.3" />
<polygon points="523.3,176.7 528.3,176.3 528.7,184.2 524.2,185.0" />
<polygon points="530.0,173.3 536.7,173.0 537.0,179.7 530.8,180.3" />
<polygon points="500.8,191.3 502.8,191.3 502.8,193.7 500.8,193.7" />
<polygon points="507.2,190.5 509.5,190.5 509.5,192.8 507.2,192.8" />
<polygon points="510.8,188.8 512.8,188.8 512.8,191.2 510.8,191.2" />
<polygon points="515.5,191.3 518.0,191.3 518.0,195.0 515.5,195.0" />
<polygon points="520.8,189.0 522.8,189.0 522.8,191.3 520.8,191.3" />
<polygon points="500.8,197.0 503.0,197.0 503.0,199.5 500.8,199.5" />
<polygon points="425.3,326.3 428.0,325.8 428.7,330.0 426.3,331.3 425.0,329.2" />
<polygon points="453.7,322.7 455.7,322.7 455.7,324.7 453.7,324.7" />
<polygon points="410.0,322.5 414.2,322.0 414.7,324.7 410.3,325.0" />
<polygon points="252.5,187.5 256.7,185.0 260.8,186.7 265.0,192.5 262.5,195.8 258.3,195.0 260.8,199.2 255.0,199.7 250.0,198.7 251.7,193.3 254.2,190.8" />
<polygon points="250.0,440.0 254.2,435.0 257.5,428.7 260.3,425.0 263.7,427.0 260.3,432.0 258.7,438.3 262.0,443.3 260.3,450.0 263.7,455.0 258.7,458.7 253.7,457.0 250.3,452.0 250.7,445.3" />
<polygon points="291.7,455.8 295.0,452.5 298.3,453.3 298.7,460.0 294.2,459.5" />
<polygon points="246.7,438.3 250.0,433.3 251.7,428.3 255.0,425.0 260.0,426.7 261.7,431.7 258.3,435.0 260.0,441.7 263.3,446.7 260.0,451.7 261.7,456.7 258.3,460.0 255.0,463.3 251.7,461.7 250.0,456.7 251.7,450.0 248.3,445.0" />
<polygon points="290.0,454.2 295.0,451.7 298.7,453.3 298.7,460.0 295.0,459.2 291.3,458.3" />
</g>
</g>
</svg>
<div class="hd" id="dv">Data valid: August 11, 2020 at 8 a.m. EDT</div>
<div class="hd" id="in">Intensity:</div>
<div class="sw" style="top:295.6px;background:#ffffff;box-shadow:inset 0 0 0 1px #d9d9d9;"></div><div class="lt" style="top:293.0px"><b>None</b></div><div class="sw" style="top:327.0px;background:#ffff00;"></div><div class="lt" style="top:324.4px"><b>D0</b> (Abnormally Dry)</div><div class="sw" style="top:358.3px;background:#fcd37f;"></div><div class="lt" style="top:355.7px"><b>D1</b> (Moderate Drought)</div><div class="sw" style="top:389.7px;background:#ffaa00;"></div><div class="lt" style="top:387.1px"><b>D2</b> (Severe Drought)</div><div class="sw" style="top:421.0px;background:#e60000;"></div><div class="lt" style="top:418.4px"><b>D3</b> (Extreme Drought)</div><div class="sw" style="top:452.4px;background:#730000;"></div><div class="lt" style="top:449.8px"><b>D4</b> (Exceptional Drought)</div><div class="sw" style="top:483.7px;background:#a0a0a0;"></div><div class="lt" style="top:481.1px"><b>No Data</b></div>
</body></html>
